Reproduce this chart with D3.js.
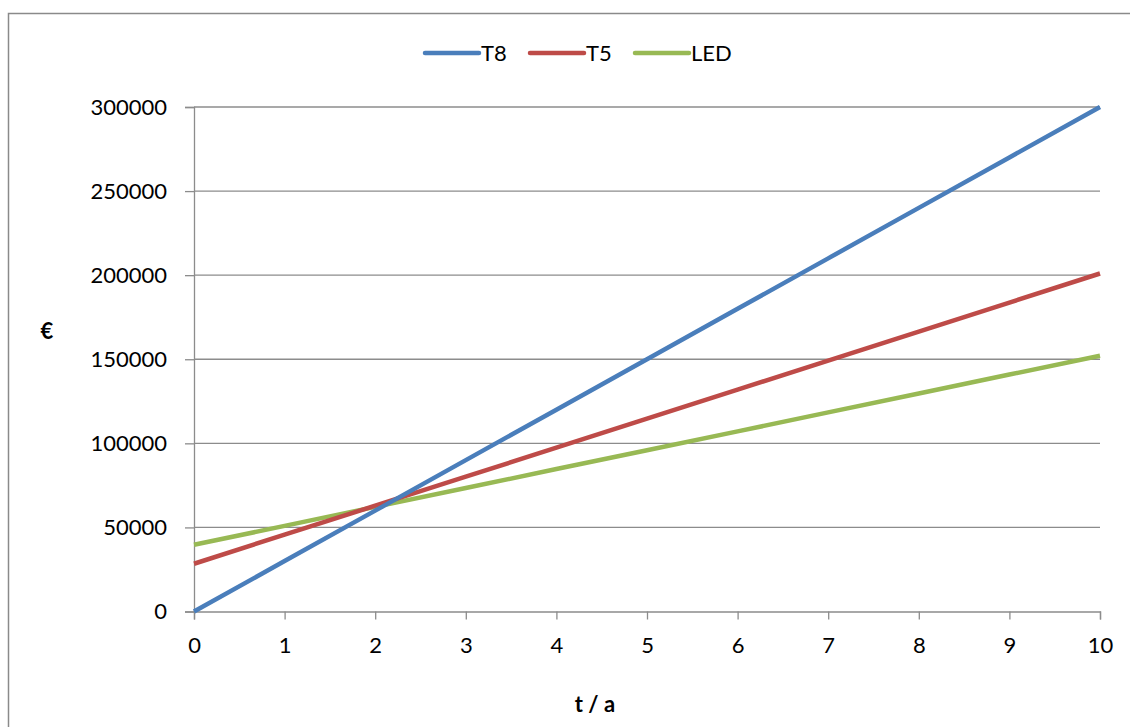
<!DOCTYPE html>
<html><head><meta charset="utf-8">
<script src="https://d3js.org/d3.v7.min.js"></script>
<style>body{margin:0;background:#fff;} svg{display:block;font-family:Lato,"Open Sans",sans-serif;}</style>
</head><body>
<svg id="c" width="1130" height="727"></svg>
<script>
const years = [0,1,2,3,4,5,6,7,8,9,10];
const t8 = [0,30000,60000,90000,120000,150000,180000,210000,240000,270000,300000];
const t5 = [28400,45700,62900,80200,97400,114700,131900,149200,166400,183700,201000];
const led = [39700,50900,62200,73400,84700,95900,107100,118400,129600,140900,152100];
const seriesNames = ["T8","T5","LED"];
const seriesColors = ["#4A7EBB","#BE4B48","#98B954"];
const yTicks = [0,50000,100000,150000,200000,250000,300000];
const xTicks = [0,1,2,3,4,5,6,7,8,9,10];

const svg = d3.select("#c");
svg.append("rect").attr("x",8.5).attr("y",13.5).attr("width",1130).attr("height",727)
  .attr("fill","none").attr("stroke","#8a8a8a").attr("stroke-width",1.5);

const x = d3.scaleLinear().domain([0,10]).range([194,1100]);
const y = d3.scaleLinear().domain([0,300000]).range([611.5,107]);
const grey = "#8c8c8c";
const fs = 22;

svg.append("g").selectAll("line").data(yTicks.filter(d=>d>0)).join("line")
  .attr("x1",x(0)).attr("x2",x(10)).attr("y1",d=>y(d)).attr("y2",d=>y(d))
  .attr("stroke",grey).attr("stroke-width",1.3);

const ya = svg.append("g").attr("transform",`translate(${x(0)},0)`)
  .call(d3.axisLeft(y).tickValues(yTicks).tickSize(9).tickPadding(18).tickFormat(d=>d));
ya.select(".domain").attr("stroke",grey).attr("stroke-width",1.3);
ya.selectAll(".tick line").attr("stroke",grey).attr("stroke-width",1.3);
ya.selectAll("text").attr("font-size",fs).attr("fill","#000").attr("font-family","Lato");

const xa = svg.append("g").attr("transform",`translate(0,${y(0)})`)
  .call(d3.axisBottom(x).tickValues(xTicks).tickSize(8).tickPadding(18).tickFormat(d=>d));
xa.select(".domain").attr("stroke",grey).attr("stroke-width",1.3);
xa.selectAll(".tick line").attr("stroke",grey).attr("stroke-width",1.3);
xa.selectAll("text").attr("font-size",fs).attr("fill","#000").attr("font-family","Lato");

const data = [t8,t5,led];
const line = d3.line().x((d,i)=>x(years[i])).y(d=>y(d));
[2,1,0].forEach(k=>{
  svg.append("path").datum(data[k]).attr("d",line).attr("fill","none")
    .attr("stroke",seriesColors[k]).attr("stroke-width",4.5).attr("stroke-linejoin","round");
});

const lx = [425,530,635];
seriesNames.forEach((n,i)=>{
  svg.append("line").attr("x1",lx[i]).attr("x2",lx[i]+54).attr("y1",53).attr("y2",53)
    .attr("stroke",seriesColors[i]).attr("stroke-width",4.5).attr("stroke-linecap","round");
  svg.append("text").attr("x",lx[i]+56).attr("y",61).attr("font-size",fs).text(n);
});

svg.append("text").attr("x",47).attr("y",339).attr("text-anchor","middle")
  .attr("font-weight","bold").attr("font-size",fs).text("€");
svg.append("text").attr("x",595).attr("y",712).attr("text-anchor","middle")
  .attr("font-weight","bold").attr("font-size",fs).text("t / a");
</script>
</body></html>
